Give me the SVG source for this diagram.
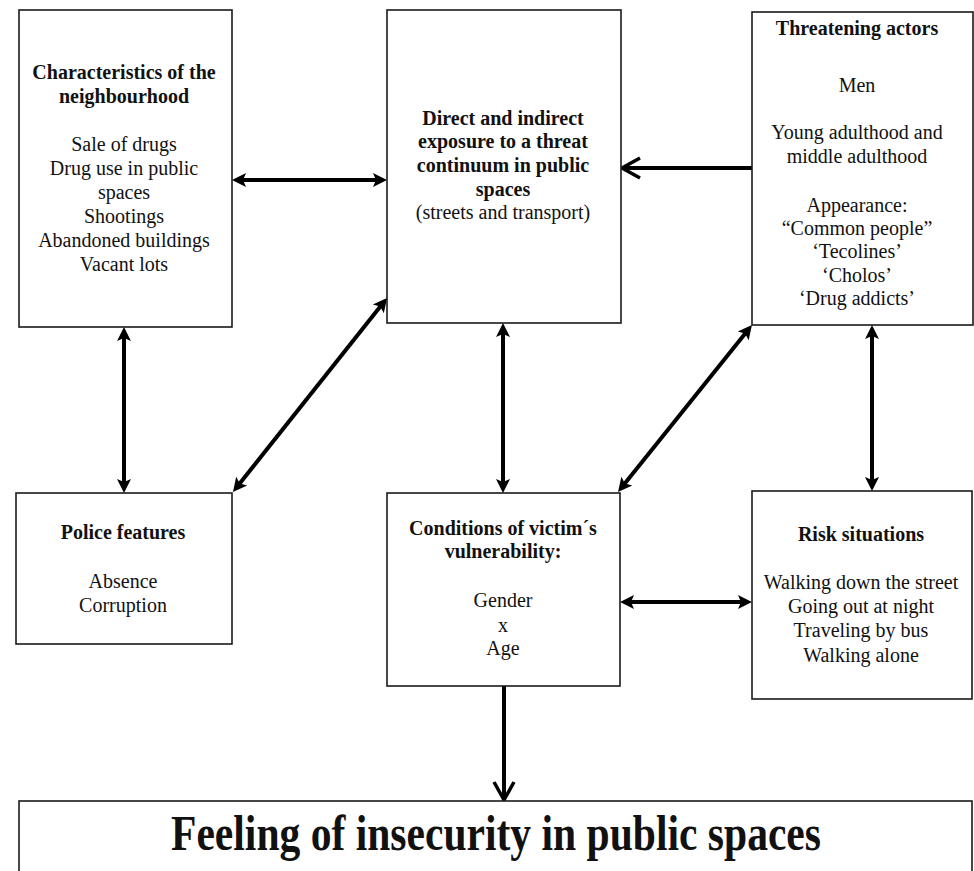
<svg xmlns="http://www.w3.org/2000/svg" width="974" height="871" viewBox="0 0 974 871">
<style>
.box{fill:#fff;stroke:#1a1a1a;stroke-width:1.6}
text{font-family:"Liberation Serif","Times New Roman",serif;font-size:20px;fill:#111;text-anchor:middle}
.b{font-weight:bold}
.ln{stroke:#000;stroke-width:4;fill:none}
.dbl{marker-start:url(#fh);marker-end:url(#fh)}
.one{marker-end:url(#oh)}
</style>
<defs>
<marker id="fh" markerUnits="userSpaceOnUse" viewBox="0 0 16 16" markerWidth="16" markerHeight="16" refX="8" refY="8" orient="auto-start-reverse">
<path d="M14,8 L0,1 L3,8 L0,15 Z" fill="#000"/>
</marker>
<marker id="oh" markerUnits="userSpaceOnUse" viewBox="0 0 24 24" markerWidth="24" markerHeight="24" refX="19" refY="12" orient="auto">
<path d="M2,2 L20,12 L2,22" fill="none" stroke="#000" stroke-width="3.5" stroke-linejoin="miter"/>
</marker>
</defs>
<rect width="974" height="871" fill="#fff"/>
<g id="connectors">
<line class="ln dbl" x1="238" y1="180" x2="381" y2="180"/>
<line class="ln one" x1="752" y1="168" x2="623" y2="168"/>
<line class="ln dbl" x1="124" y1="333" x2="124" y2="487"/>
<line class="ln dbl" x1="236.7" y1="487.3" x2="383.3" y2="302.7"/>
<line class="ln dbl" x1="503" y1="329" x2="503" y2="487"/>
<line class="ln dbl" x1="621.8" y1="487.3" x2="748.2" y2="329.7"/>
<line class="ln dbl" x1="872" y1="331" x2="872" y2="485"/>
<line class="ln dbl" x1="626" y1="602" x2="746" y2="602"/>
<line class="ln one" x1="504" y1="686" x2="504" y2="799"/>
</g>
<g id="neighbourhood">
<rect class="box" x="19" y="10" width="213" height="317"/>
<text class="b" x="124" y="79">Characteristics of the</text>
<text class="b" x="124" y="103">neighbourhood</text>
<text x="124" y="151">Sale of drugs</text>
<text x="124" y="175">Drug use in public</text>
<text x="124" y="199">spaces</text>
<text x="124" y="223">Shootings</text>
<text x="124" y="247">Abandoned buildings</text>
<text x="124" y="271">Vacant lots</text>
</g>
<g id="exposure">
<rect class="box" x="387" y="10" width="234" height="313"/>
<text class="b" x="503" y="125">Direct and indirect</text>
<text class="b" x="503" y="148">exposure to a threat</text>
<text class="b" x="503" y="172">continuum in public</text>
<text class="b" x="503" y="196">spaces</text>
<text x="503" y="219">(streets and transport)</text>
</g>
<g id="actors">
<rect class="box" x="752" y="12" width="221" height="313"/>
<text class="b" x="857" y="35">Threatening actors</text>
<text x="857" y="92">Men</text>
<text x="857" y="139">Young adulthood and</text>
<text x="857" y="163">middle adulthood</text>
<text x="857" y="212">Appearance:</text>
<text x="857" y="235">“Common people”</text>
<text x="857" y="258">‘Tecolines’</text>
<text x="857" y="282">‘Cholos’</text>
<text x="857" y="305">‘Drug addicts’</text>
</g>
<g id="police">
<rect class="box" x="16" y="493" width="216" height="151"/>
<text class="b" x="123" y="539">Police features</text>
<text x="123" y="588">Absence</text>
<text x="123" y="612">Corruption</text>
</g>
<g id="vulnerability">
<rect class="box" x="387" y="493" width="233" height="193"/>
<text class="b" x="503" y="535">Conditions of victim´s</text>
<text class="b" x="503" y="558">vulnerability:</text>
<text x="503" y="607">Gender</text>
<text x="503" y="632">x</text>
<text x="503" y="655">Age</text>
</g>
<g id="risk">
<rect class="box" x="752" y="491" width="220" height="208"/>
<text class="b" x="861" y="541">Risk situations</text>
<text x="861" y="589">Walking down the street</text>
<text x="861" y="613">Going out at night</text>
<text x="861" y="637">Traveling by bus</text>
<text x="861" y="662">Walking alone</text>
</g>
<g id="feeling">
<rect class="box" x="19" y="801" width="953" height="110"/>
<text class="b" x="496" y="850" style="font-size:51px" textLength="650" lengthAdjust="spacingAndGlyphs">Feeling of insecurity in public spaces</text>
</g>
</svg>
